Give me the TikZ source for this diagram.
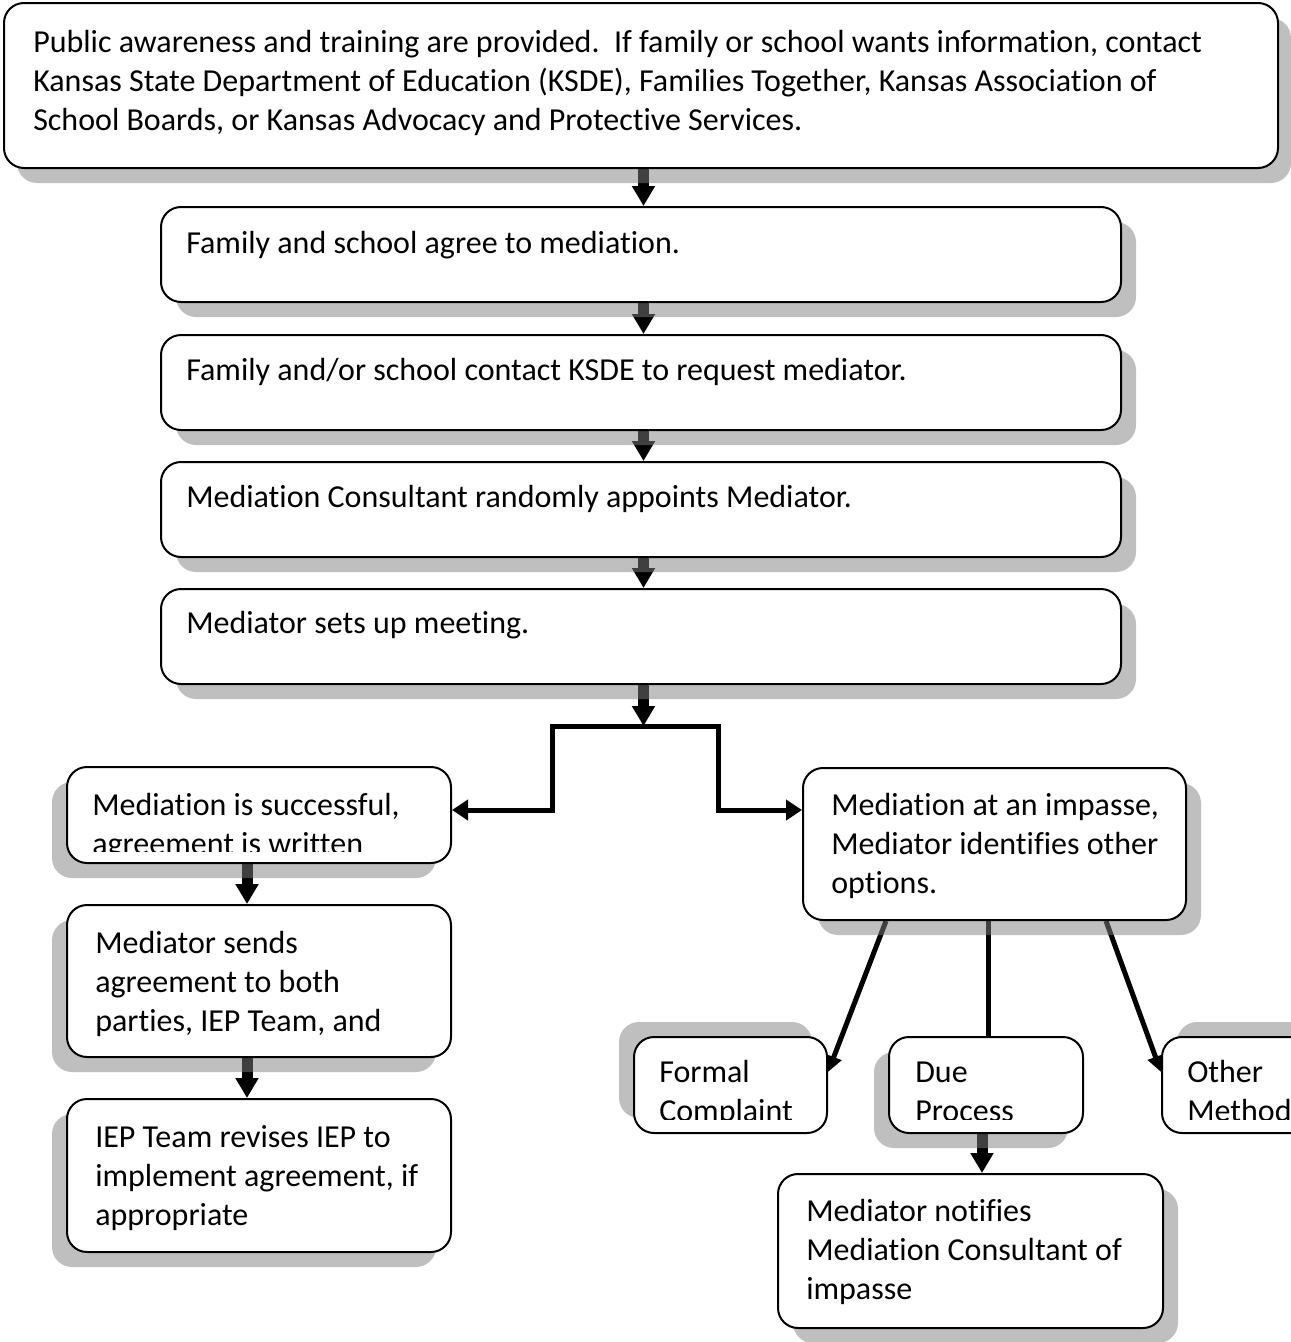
\documentclass[tikz,border=0pt]{standalone}
\usepackage{fontspec}
\setmainfont[Ligatures={NoCommon,NoContextual,NoRequired}]{Carlito}
\usetikzlibrary{arrows.meta,shadows,calc}
\pgfdeclarelayer{bg}
\pgfsetlayers{bg,main}
\tikzset{
  box/.style={draw=black, line width=1.5pt, rounded corners=15pt, fill=white, inner sep=0pt},
  shDR/.style={drop shadow={shadow xshift=11.25pt, shadow yshift=-11.25pt}},
  shTop/.style={drop shadow={shadow xshift=9.75pt, shadow yshift=-11.25pt}},
  shDL/.style={drop shadow={shadow xshift=-11.25pt, shadow yshift=-11.25pt}},
  shUL/.style={drop shadow={shadow xshift=-11.25pt, shadow yshift=11.25pt}},
  shUR/.style={drop shadow={shadow xshift=11.25pt, shadow yshift=11.25pt}},
  txt/.style={anchor=base west, inner sep=0pt, font=\fontsize{24pt}{29.25pt}\selectfont},
  flowarrow/.style={line width=8.25pt, -{Triangle[width=16.5pt,length=15pt]}},
  thinline/.style={line width=3.75pt, line join=miter},
  thintip/.style={-{Triangle[width=12pt,length=12pt]}}
}
\begin{document}
\begin{tikzpicture}[x=0.75pt,y=-0.75pt]
\useasboundingbox (0,0) rectangle (1291,1342);
\clip (0,0) rectangle (1291,1342);

% boxes
\node[box, shTop, minimum width={1274*0.75pt}, minimum height={165*0.75pt}] (top) at (641,85.5) {};
\node[box, shDR, minimum width={960*0.75pt}, minimum height={95*0.75pt}] (b2) at (641,254.5) {};
\node[box, shDR, minimum width={960*0.75pt}, minimum height={95*0.75pt}] (b3) at (641,382.5) {};
\node[box, shDR, minimum width={960*0.75pt}, minimum height={95*0.75pt}] (b4) at (641,509.5) {};
\node[box, shDR, minimum width={960*0.75pt}, minimum height={95*0.75pt}] (b5) at (641,636.5) {};
\node[box, shDL, minimum width={384*0.75pt}, minimum height={96*0.75pt}] (L1) at (259,815) {};
\node[box, shDL, minimum width={384*0.75pt}, minimum height={152*0.75pt}] (L2) at (259,981) {};
\node[box, shDL, minimum width={384*0.75pt}, minimum height={153*0.75pt}] (L3) at (259,1175.5) {};
\node[box, shDR, minimum width={383*0.75pt}, minimum height={152*0.75pt}] (R1) at (994.5,844) {};
\node[box, shUL, minimum width={193*0.75pt}, minimum height={96*0.75pt}] (FC) at (730.5,1085) {};
\node[box, shDL, minimum width={194*0.75pt}, minimum height={96*0.75pt}] (DP) at (986,1085) {};
\node[box, shUR, minimum width={194*0.75pt}, minimum height={96*0.75pt}] (OM) at (1259,1085) {};
\node[box, shDR, minimum width={385*0.75pt}, minimum height={154*0.75pt}] (NB) at (970.5,1251) {};

% texts
\node[txt] (ttop) at (33,52) {\begin{tabular}[t]{@{}l@{}}Public awareness and training are provided.\ \ If family or school wants information, contact\\Kansas State Department of Education (KSDE), Families Together, Kansas Association of\\School Boards, or Kansas Advocacy and Protective Services.\end{tabular}};
\node[txt] (tb2) at (186,253) {Family and school agree to mediation.};
\node[txt] (tb3) at (186,380) {Family and/or school contact KSDE to request mediator.};
\node[txt] (tb4) at (186,507) {Mediation Consultant randomly appoints Mediator.};
\node[txt] (tb5) at (186,633) {Mediator sets up meeting.};
\begin{scope}
  \clip (67,767) rectangle (451,851);
  \node[txt] (tL1) at (92,815) {\begin{tabular}[t]{@{}l@{}}Mediation is successful,\\agreement is written\end{tabular}};
\end{scope}
\node[txt] (tL2) at (95,953) {\begin{tabular}[t]{@{}l@{}}Mediator sends\\agreement to both\\parties, IEP Team, and\end{tabular}};
\node[txt] (tL3) at (95,1147) {\begin{tabular}[t]{@{}l@{}}IEP Team revises IEP to\\implement agreement, if\\appropriate\end{tabular}};
\node[txt] (tR1) at (831,815) {\begin{tabular}[t]{@{}l@{}}Mediation at an impasse,\\Mediator identifies other\\options.\end{tabular}};
\begin{scope}
  \clip (634,1037) rectangle (1291,1119);
  \node[txt] (tFC) at (659,1082) {\begin{tabular}[t]{@{}l@{}}Formal\\Complaint\end{tabular}};
  \node[txt] (tDP) at (915,1082) {\begin{tabular}[t]{@{}l@{}}Due\\Process\end{tabular}};
  \node[txt] (tOM) at (1187,1082) {\begin{tabular}[t]{@{}l@{}}Other\\Method\end{tabular}};
\end{scope}
\node[txt] (tNB) at (806,1221) {\begin{tabular}[t]{@{}l@{}}Mediator notifies\\Mediation Consultant of\\impasse\end{tabular}};

% connectors (under shadows and boxes)
\begin{pgfonlayer}{bg}
  \draw[flowarrow] ($(top.south)+(2.5,0)$) -- ($(b2.north)+(2.5,0)$);
  \draw[flowarrow] ($(b2.south)+(2.5,0)$) -- ($(b3.north)+(2.5,0)$);
  \draw[flowarrow] ($(b3.south)+(2.5,0)$) -- ($(b4.north)+(2.5,0)$);
  \draw[flowarrow] ($(b4.south)+(2.5,0)$) -- ($(b5.north)+(2.5,0)$);
  \coordinate (j) at (643.5,726);
  \coordinate (jl) at (552,810);
  \coordinate (jr) at (718.5,810);
  \draw[flowarrow] ($(b5.south)+(2.5,0)$) -- (j);
  \draw[thinline, {Triangle[width=15pt,length=12pt]}-{Triangle[width=15pt,length=12pt]}]
     (L1.east |- jl) -- (jl) -- (jl |- j) -- (jr |- j) -- (jr) -- (R1.west |- jr);
  \draw[flowarrow] ($(L1.south)+(-12,0)$) -- ($(L2.north)+(-12,0)$);
  \draw[flowarrow] ($(L2.south)+(-12,0)$) -- ($(L3.north)+(-12,0)$);
  \draw[thinline, thintip] ($(R1.south west)+(84,0)$) -- ($(FC.east)+(0,-13)$);
  \draw[thinline, thintip] ($(R1.south west)+(304,0)$) -- ($(OM.west)+(0,-13)$);
  \coordinate (dpt) at ($(DP.north)+(2,0)$);
  \draw[thinline] (dpt) -- (dpt |- R1.south);
  \coordinate (dpb) at ($(DP.south)+(-4,0)$);
  \draw[flowarrow] (dpb) -- (dpb |- NB.north);
\end{pgfonlayer}
\end{tikzpicture}
\end{document}
